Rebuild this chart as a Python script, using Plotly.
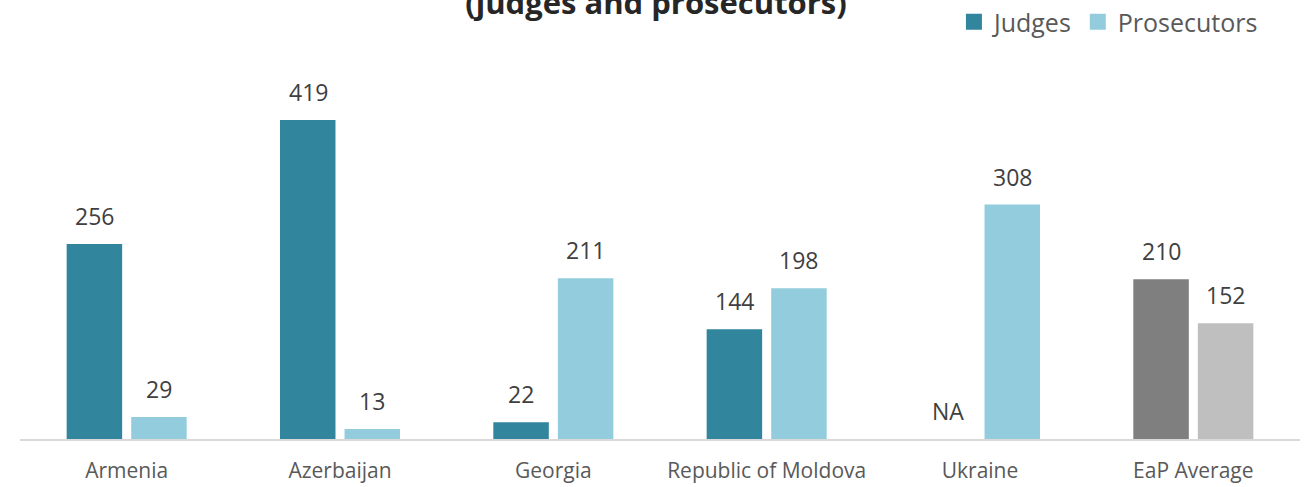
import plotly.graph_objects as go

# Data
countries = ["Armenia", "Azerbaijan", "Georgia", "Republic of Moldova", "Ukraine", "EaP Average"]
judges = [256, 419, 22, 144, None, 210]
prosecutors = [29, 13, 211, 198, 308, 152]
title_text = "(judges and prosecutors)"

JUDGE_COLOR = "#31859C"
PROS_COLOR = "#93CDDD"
AVG_DARK = "#7F7F7F"
AVG_LIGHT = "#BFBFBF"
FONT = "Open Sans"
TEXT_GRAY = "#595959"
LABEL_GRAY = "#404040"

judge_colors = [AVG_DARK if c == "EaP Average" else JUDGE_COLOR for c in countries]
pros_colors = [AVG_LIGHT if c == "EaP Average" else PROS_COLOR for c in countries]

fig = go.Figure()
fig.add_trace(go.Bar(
    x=countries, y=judges, name="Judges", showlegend=False,
    marker=dict(color=judge_colors, line=dict(width=0)),
))
fig.add_trace(go.Bar(
    x=countries, y=prosecutors, name="Prosecutors", showlegend=False,
    marker=dict(color=pros_colors, line=dict(width=0)),
))

# Legend entries with the series colours (the average bars are gray)
for name, col in [("Judges", JUDGE_COLOR), ("Prosecutors", PROS_COLOR)]:
    fig.add_trace(go.Scatter(
        x=[None], y=[None], mode="markers", name=name,
        marker=dict(symbol="square", size=16, color=col),
    ))

# Value labels above each bar (offset to the left / right bar of each pair)
annotations = []
offset = 32
for c, jv, pv in zip(countries, judges, prosecutors):
    annotations.append(dict(
        x=c, y=jv if jv is not None else 0, xref="x", yref="y",
        text=str(jv) if jv is not None else "NA",
        xshift=-offset, yshift=10,
        yanchor="bottom", showarrow=False,
        font=dict(family=FONT, size=23, color=LABEL_GRAY),
    ))
    annotations.append(dict(
        x=c, y=pv, xref="x", yref="y", text=str(pv),
        xshift=offset, yshift=10, yanchor="bottom", showarrow=False,
        font=dict(family=FONT, size=23, color=LABEL_GRAY),
    ))

fig.update_layout(
    width=1312, height=487,
    margin=dict(l=20, r=12, t=48, b=48, autoexpand=False),
    paper_bgcolor="white", plot_bgcolor="white",
    barmode="group", bargap=0.395, bargroupgap=0.14,
    title=dict(
        text="<b>" + title_text + "</b>", x=0.5, xanchor="center",
        y=1 - 3 / 487, yanchor="middle", yref="container",
        font=dict(family=FONT, size=31, color="#262626"),
    ),
    showlegend=True,
    legend=dict(
        orientation="h", x=1 - 38 / 1312, xanchor="right",
        y=1 - 22 / 487, yanchor="middle", yref="container",
        font=dict(family=FONT, size=25, color=TEXT_GRAY),
        traceorder="normal", itemwidth=30,
    ),
    annotations=annotations,
    xaxis=dict(
        showline=True, linecolor="#D9D9D9", linewidth=2, automargin=False,
        showgrid=False, ticks="", ticklabelstandoff=12,
        tickfont=dict(family=FONT, size=21, color=TEXT_GRAY),
    ),
    yaxis=dict(
        range=[0, 513.6], visible=False, showgrid=False, zeroline=False,
        automargin=False,
    ),
)

fig.write_html("out.html")
